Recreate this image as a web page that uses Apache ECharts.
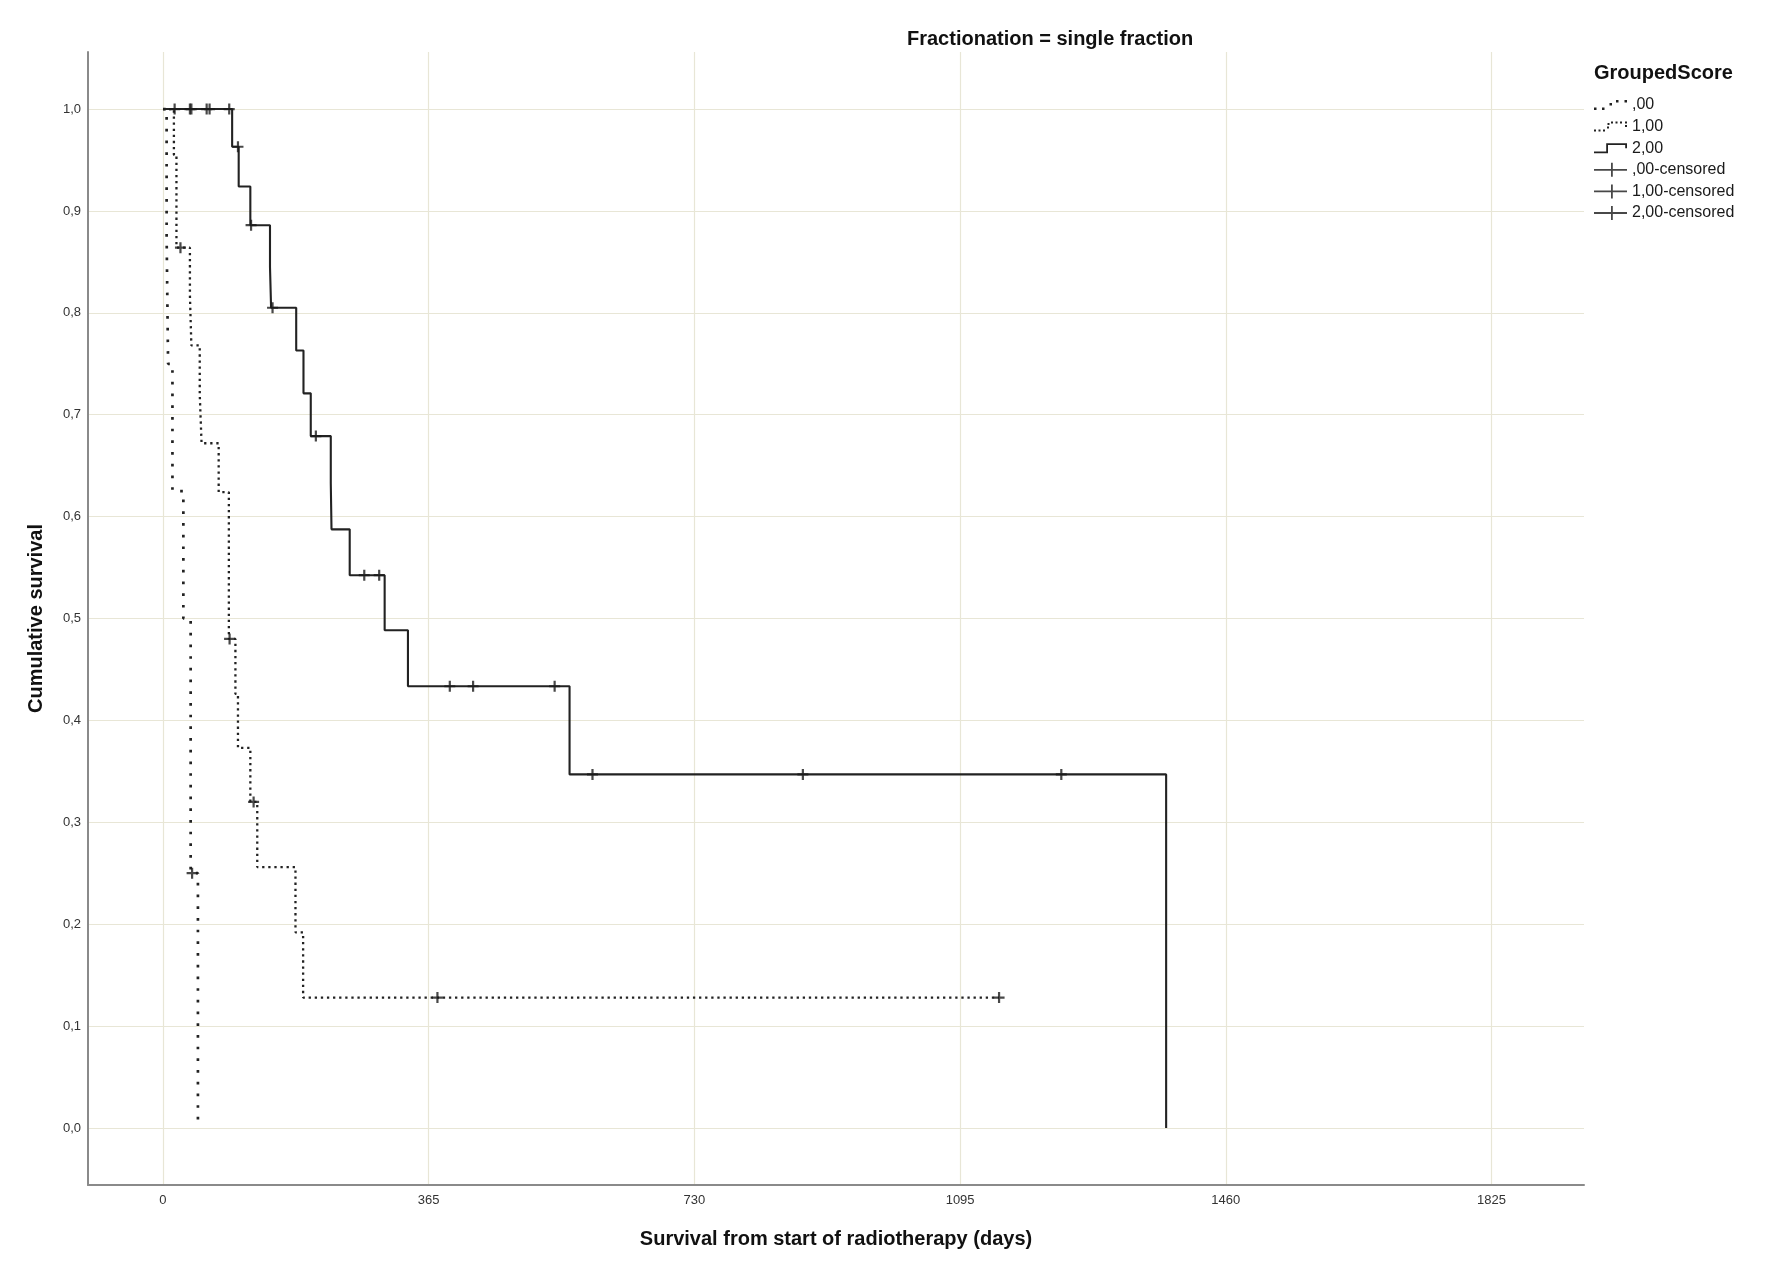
<!DOCTYPE html>
<html><head><meta charset="utf-8">
<script src="https://cdn.jsdelivr.net/npm/echarts@6/dist/echarts.min.js"></script>
<style>html,body{margin:0;padding:0;background:#fff}#c{width:1772px;height:1276px}</style>
</head><body><div id="c"></div>
<script>
// ---- data ----
const xTicks = [0, 365, 730, 1095, 1460, 1825];
const yTicks = [0, 0.1, 0.2, 0.3, 0.4, 0.5, 0.6, 0.7, 0.8, 0.9, 1.0];
const groupNames = [',00', '1,00', '2,00'];
const censorNames = [',00-censored', '1,00-censored', '2,00-censored'];

// group ,00 (Kaplan-Meier step points: day, survival after that day)
const g0Days = [0, 5, 7, 13, 28, 38, 48];
const g0Surv = [1, 0.875, 0.75, 0.625, 0.5, 0.25, 0];
const g0CensorDays = [40];
const g0CensorSurv = [0.25];

// group 1,00
const g1Days = [0, 15, 18.5, 37, 39, 50.5, 53, 76.5, 90.5, 99.5, 103, 120, 129.5, 182, 192.5, 1148.5];
const g1Surv = [1, 0.955, 0.864, 0.817, 0.768, 0.72, 0.672, 0.624, 0.48, 0.426, 0.373, 0.32, 0.256, 0.192, 0.128, 0.128];
const g1CensorDays = [24, 91.5, 124.5, 377, 1148.5];
const g1CensorSurv = [0.864, 0.48, 0.32, 0.128, 0.128];

// group 2,00
const g2Days = [0, 95, 104, 120, 147, 148.5, 183, 193, 203, 230.5, 231.5, 256.5, 304.5, 336.5, 558.5, 1378];
const g2Surv = [1, 0.963, 0.924, 0.886, 0.845, 0.805, 0.763, 0.721, 0.679, 0.633, 0.5875, 0.5425, 0.4885, 0.4335, 0.347, 0];
const g2CensorDays = [16, 37, 39, 60, 64, 91, 103, 121, 150.5, 210, 276.5, 297, 394, 426, 538, 590, 879, 1234];
const g2CensorSurv = [1, 1, 1, 1, 1, 1, 0.963, 0.886, 0.805, 0.679, 0.5425, 0.5425, 0.4335, 0.4335, 0.4335, 0.347, 0.347, 0.347];

// ---- chart ----
const FONT = 'Liberation Sans, Arial, sans-serif';
const zip = (a, b) => a.map((v, i) => [v, b[i]]);
const plusPath = 'path://M0 4h10v2h-10z M4 0h2v10h-2z';
const iconSparse = 'path://M0 7.5h2.5v2.5h-2.5z M8 7.5h2.5v2.5h-2.5z M15.5 3h2.5v2.5h-2.5z M22 0h2.5v2.5h-2.5z M30.5 0h2.5v2.5h-2.5z';
const iconDense = 'path://M0 8h2v2h-2z M4.5 8h2v2h-2z M9 8h2v2h-2z M13 5h2v2h-2z M13.5 1.5h2v2h-2z M17 0h2v2h-2z M21.5 0h2v2h-2z M26 0h2v2h-2z M31 0h2v2h-2z M31 3.5h2v2h-2z';
const iconSolid = 'path://M0 8.2h14v1.8h-14z M12.2 0h1.8v10h-1.8z M12.2 0h20.8v1.8h-20.8z M31.2 0h1.8v5h-1.8z';
const iconCross = 'path://M0 6.1h33v1.8h-33z M17 0h1.8v14h-1.8z';

const lineStyles = [
  {color: '#222', width: 2.7, type: [2.7, 9.0], cap: 'butt'},
  {color: '#222', width: 2.3, type: [2.3, 3.8], cap: 'butt'},
  {color: '#222', width: 2.1, type: 'solid'}
];
const lineData = [zip(g0Days, g0Surv), zip(g1Days, g1Surv), zip(g2Days, g2Surv)];
const censorData = [zip(g0CensorDays, g0CensorSurv), zip(g1CensorDays, g1CensorSurv), zip(g2CensorDays, g2CensorSurv)];

const series = [];
for (let i = 0; i < 3; i++) {
  series.push({
    name: groupNames[i], type: 'line', step: 'end', data: lineData[i],
    symbol: 'none', showSymbol: false, lineStyle: lineStyles[i],
    itemStyle: {color: lineStyles[i].color}, z: 3, animation: false
  });
}
for (let i = 0; i < 3; i++) {
  series.push({
    name: censorNames[i], type: 'scatter', data: censorData[i],
    symbol: plusPath, symbolSize: 11, itemStyle: {color: '#1a1a1a'}, z: 5, animation: false
  });
}

const chart = echarts.init(document.getElementById('c'), null, {renderer: 'canvas'});
chart.setOption({
  animation: false,
  backgroundColor: '#fff',
  title: [
    {text: 'Fractionation = single fraction', left: 907, top: 29.5, padding: 0,
     textStyle: {fontSize: 20, fontWeight: 'bold', color: '#111', fontFamily: FONT}},
    {text: 'GroupedScore', left: 1594, top: 63, padding: 0,
     textStyle: {fontSize: 20, fontWeight: 'bold', color: '#111', fontFamily: FONT}}
  ],
  legend: {
    orient: 'vertical', left: 1594, top: 97, padding: 0,
    itemWidth: 33, itemHeight: 14, itemGap: 5.6,
    itemStyle: {borderWidth: 0},
    selectedMode: false,
    textStyle: {fontSize: 16, color: '#1a1a1a', fontFamily: FONT, lineHeight: 16},
    data: [
      {name: groupNames[0], icon: iconSparse},
      {name: groupNames[1], icon: iconDense},
      {name: groupNames[2], icon: iconSolid},
      {name: censorNames[0], icon: iconCross},
      {name: censorNames[1], icon: iconCross},
      {name: censorNames[2], icon: iconCross}
    ]
  },
  grid: {left: 88, right: 188, top: 52, bottom: 91, containLabel: false},
  xAxis: {
    type: 'value', min: -103, max: 1952,
    axisLine: {show: true, onZero: false, lineStyle: {color: '#8a8a8a', width: 2}},
    axisTick: {show: false, customValues: xTicks},
    axisLabel: {customValues: xTicks, margin: 9, fontSize: 13, color: '#333', fontFamily: FONT,
      formatter: v => String(Math.round(v))},
    splitLine: {show: true, lineStyle: {color: '#e8e6d6', width: 1.2}},
    name: 'Survival from start of radiotherapy (days)', nameLocation: 'middle', nameGap: 44,
    nameTextStyle: {fontSize: 20, fontWeight: 'bold', color: '#111', fontFamily: FONT}
  },
  yAxis: {
    type: 'value', min: -0.056, max: 1.056,
    axisLine: {show: true, onZero: false, lineStyle: {color: '#8a8a8a', width: 2}},
    axisTick: {show: false, customValues: yTicks},
    axisLabel: {customValues: yTicks, margin: 7, fontSize: 13, color: '#333', fontFamily: FONT,
      formatter: v => v.toFixed(1).replace('.', ',')},
    splitLine: {show: true, lineStyle: {color: '#e8e6d6', width: 1.2}},
    name: 'Cumulative survival', nameLocation: 'middle', nameGap: 42, nameRotate: 90,
    nameTextStyle: {fontSize: 20, fontWeight: 'bold', color: '#111', fontFamily: FONT}
  },
  series: series
});
</script>
</body></html>
